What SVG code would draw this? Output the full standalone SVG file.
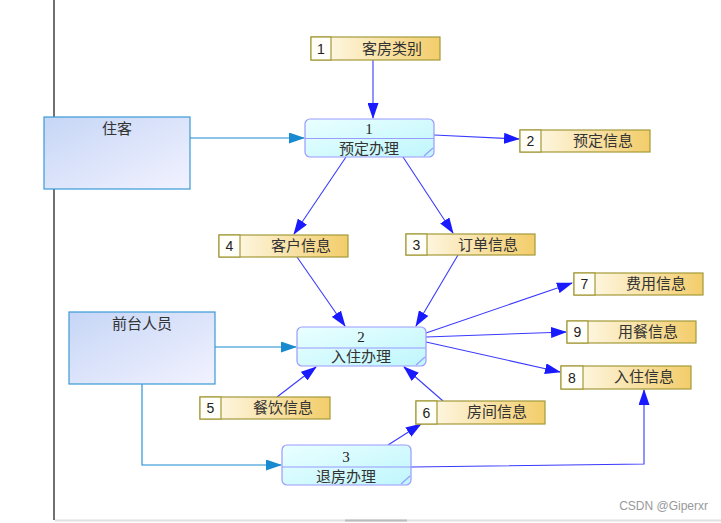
<svg xmlns="http://www.w3.org/2000/svg" width="721" height="523" viewBox="0 0 721 523">
<defs>
<linearGradient id="ext" x1="0" y1="0" x2="1" y2="1"><stop offset="0" stop-color="#c6d6f6"/><stop offset="1" stop-color="#f2f2ff"/></linearGradient>
<linearGradient id="proc" x1="0" y1="0" x2="1" y2="1"><stop offset="0" stop-color="#eaffff"/><stop offset="1" stop-color="#bff6fc"/></linearGradient>
<linearGradient id="store" x1="0" y1="0" x2="1" y2="0"><stop offset="0" stop-color="#fffdf4"/><stop offset="1" stop-color="#f3cd6a"/></linearGradient>
<marker id="ab" markerWidth="16" markerHeight="11" refX="15" refY="5.5" orient="auto" markerUnits="userSpaceOnUse"><path d="M0,0 L16,5.5 L0,11 z" fill="#1a1aff"/></marker>
<marker id="at" markerWidth="16" markerHeight="11" refX="15" refY="5.5" orient="auto" markerUnits="userSpaceOnUse"><path d="M0,0 L16,5.5 L0,11 z" fill="#1a8ad0"/></marker>
<style>
.ext{fill:url(#ext);stroke:#3a9ad6;stroke-width:1.2}
.proc{fill:url(#proc);stroke:#9a9aff;stroke-width:1.2}
.div{stroke:#9a9aff;stroke-width:1.2}
.store{fill:url(#store);stroke:#a39a3a;stroke-width:1.2}
.cell{fill:#fffef8;stroke:#a39a3a;stroke-width:1.2}
.t{font-family:"Liberation Serif","Noto Sans CJK SC",serif;font-size:15px;fill:#333;text-anchor:middle}
.n{font-family:"Liberation Sans",Arial,sans-serif;font-size:14px;fill:#222;text-anchor:middle}
.pn{font-family:"Liberation Serif",serif;font-size:15px;fill:#222;text-anchor:middle}
.c{fill:none;stroke:#3a3aff;stroke-width:1.1;marker-end:url(#ab)}
.ct{fill:none;stroke:#1a8ad0;stroke-width:1.1;marker-end:url(#at)}
</style>
</defs>
<rect width="721" height="523" fill="#fff"/>
<line x1="54" y1="0" x2="54" y2="520" stroke="#111" stroke-width="1.2"/>
<line x1="55" y1="520.5" x2="721" y2="520.5" stroke="#e0e0e0" stroke-width="2"/>
<line x1="345" y1="520.5" x2="407" y2="520.5" stroke="#bbb" stroke-width="2"/>

<g id="connectors">
<path class="c" d="M373,60 L373,118"/>
<path class="ct" d="M190,138 L304,138"/>
<path class="c" d="M434,135 L519,139"/>
<path class="c" d="M346,157 L294,234"/>
<path class="c" d="M403,157 L453,233"/>
<path class="c" d="M297,257 L345,326"/>
<path class="c" d="M458,255 L416,326"/>
<path class="c" d="M426,333 L572,283"/>
<path class="c" d="M426,337 L566,332"/>
<path class="c" d="M426,342 L560,372"/>
<path class="ct" d="M215,347 L296,347"/>
<path class="c" d="M277,397 L316,367"/>
<path class="c" d="M443,401 L404,367"/>
<path class="ct" d="M142,384 L142,465 L281,465"/>
<path class="c" d="M388,445 L421,424"/>
<path class="c" d="M411,467 L644,464 L644,390"/>
</g>

<g id="ext-zhuke">
<rect class="ext" x="44" y="117" width="146" height="72"/>
<text class="t" x="117" y="134">住客</text>
</g>
<g id="ext-qiantai">
<rect class="ext" x="69" y="312" width="146" height="72"/>
<text class="t" x="142" y="329">前台人员</text>
</g>

<g id="proc-1">
<rect class="proc" x="305" y="119" width="129" height="38" rx="5"/>
<line class="div" x1="305" y1="138.5" x2="434" y2="138.5"/>
<line class="div" x1="424" y1="156" x2="433" y2="148"/>
<text class="pn" x="369" y="134">1</text>
<text class="t" x="369" y="154">预定办理</text>
</g>
<g id="proc-2">
<rect class="proc" x="297" y="327" width="129" height="39" rx="5"/>
<line class="div" x1="297" y1="348" x2="426" y2="348"/>
<line class="div" x1="416" y1="365" x2="425" y2="357"/>
<text class="pn" x="361" y="342">2</text>
<text class="t" x="361" y="362">入住办理</text>
</g>
<g id="proc-3">
<rect class="proc" x="282" y="445" width="129" height="40" rx="5"/>
<line class="div" x1="282" y1="467" x2="411" y2="467"/>
<line class="div" x1="401" y1="484" x2="410" y2="476"/>
<text class="pn" x="346" y="462">3</text>
<text class="t" x="346" y="482">退房办理</text>
</g>

<g id="store-1">
<rect class="store" x="311" y="37" width="129" height="23"/>
<rect class="cell" x="311" y="37" width="20" height="23"/>
<text class="n" x="321" y="54">1</text>
<text class="t" x="392" y="54">客房类别</text>
</g>
<g id="store-2">
<rect class="store" x="520" y="130" width="130" height="22"/>
<rect class="cell" x="520" y="130" width="21" height="22"/>
<text class="n" x="530.5" y="146">2</text>
<text class="t" x="603" y="146">预定信息</text>
</g>
<g id="store-4">
<rect class="store" x="219" y="235" width="129" height="22"/>
<rect class="cell" x="219" y="235" width="21" height="22"/>
<text class="n" x="229.5" y="251">4</text>
<text class="t" x="301" y="251">客户信息</text>
</g>
<g id="store-3">
<rect class="store" x="406" y="234" width="129" height="21"/>
<rect class="cell" x="406" y="234" width="21" height="21"/>
<text class="n" x="416.5" y="250">3</text>
<text class="t" x="488" y="250">订单信息</text>
</g>
<g id="store-7">
<rect class="store" x="574" y="273" width="129" height="22"/>
<rect class="cell" x="574" y="273" width="21" height="22"/>
<text class="n" x="584.5" y="289">7</text>
<text class="t" x="656" y="289">费用信息</text>
</g>
<g id="store-9">
<rect class="store" x="567" y="321" width="129" height="22"/>
<rect class="cell" x="567" y="321" width="21" height="22"/>
<text class="n" x="577.5" y="337">9</text>
<text class="t" x="648" y="337">用餐信息</text>
</g>
<g id="store-8">
<rect class="store" x="561" y="366" width="130" height="23"/>
<rect class="cell" x="561" y="366" width="22" height="23"/>
<text class="n" x="572" y="383">8</text>
<text class="t" x="644" y="382">入住信息</text>
</g>
<g id="store-5">
<rect class="store" x="200" y="397" width="130" height="22"/>
<rect class="cell" x="200" y="397" width="21" height="22"/>
<text class="n" x="210.5" y="413">5</text>
<text class="t" x="283" y="413">餐饮信息</text>
</g>
<g id="store-6">
<rect class="store" x="416" y="401" width="129" height="23"/>
<rect class="cell" x="416" y="401" width="21" height="23"/>
<text class="n" x="426.5" y="418">6</text>
<text class="t" x="497" y="417">房间信息</text>
</g>

<text x="708" y="510" font-family="'Liberation Sans',Arial,sans-serif" font-size="12" fill="#999" text-anchor="end">CSDN @Giperxr</text>
</svg>
